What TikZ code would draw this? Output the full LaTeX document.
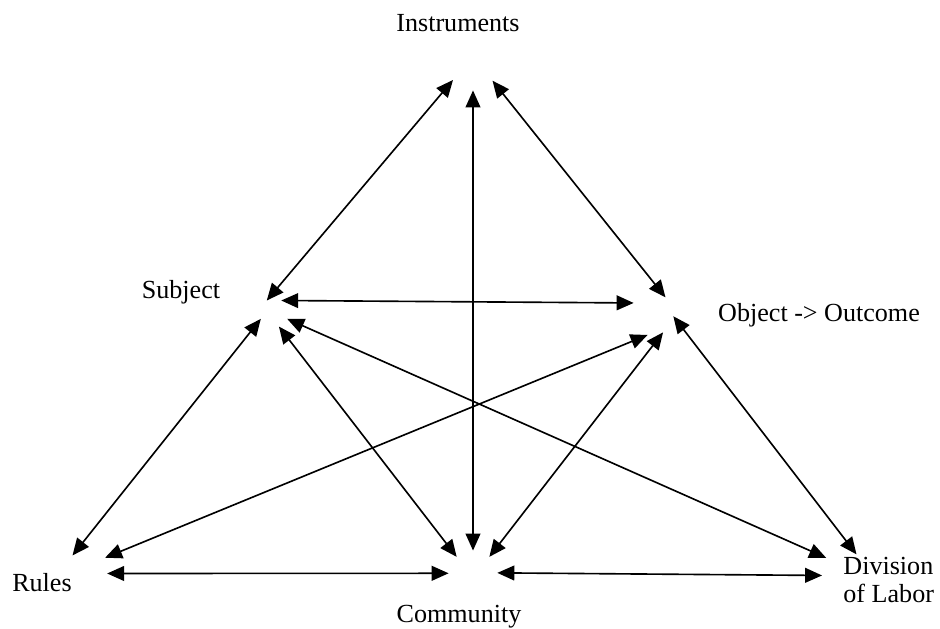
\documentclass[tikz,border=0pt]{standalone}
\usepackage{fontspec}
\setmainfont{Liberation Serif}
\usetikzlibrary{arrows.meta}

\begin{document}
\begin{tikzpicture}[x=0.46pt, y=-0.46pt,
        hub/.style={circle, inner sep=0pt, minimum size=0.92pt*#1},
        link/.style={{Triangle[length=7.8pt,width=6.8pt]}-{Triangle[length=7.8pt,width=6.8pt]}, line width=0.75pt},
        lbl/.style={font=\fontsize{12}{12.9}\selectfont, inner sep=0pt}]
        \useasboundingbox (0,0) rectangle (940,629);
        \node[hub=24] (I) at (473,66) {};
        \node[hub=14] (S) at (274,313) {};
        \node[hub=21] (O) at (652,314) {};
        \node[hub=19.5] (R) at (88,568) {};
        \node[hub=24] (C) at (473,575) {};
        \node[hub=21] (D) at (843,571) {};
        \node[lbl] (instruments) at (458,23) {Instruments};
        \node[lbl, anchor=base] (subject) at (181,299) {Subject};
        \node[lbl, anchor=base] (object) at (819,322) {Object -> Outcome};
        \node[lbl, anchor=base] (rules) at (42,591) {Rules};
        \node[lbl, anchor=base] (community) at (459,622) {Community};
        \node[lbl, align=left, anchor=north west] (division) at (843,557) {Division\\of Labor};
        \draw[link] (I.215) -- (S.120);
        \draw[link] (I.270) -- (C.90);
        \draw[link] (I.323) -- (O.51);
        \draw[link] (S.60) -- (O.149);
        \draw[link] (S.204) -- (R.141);
        \draw[link] (S.336) -- (D.142);
        \draw[link] (S.290) -- (C.132);
        \draw[link] (O.258) -- (R.31);
        \draw[link] (O.301) -- (C.48);
        \draw[link] (O.354) -- (D.51);
        \draw[link] (R.344) -- (C.176);
        \draw[link] (C.5) -- (D.192);
\end{tikzpicture}
\end{document}
